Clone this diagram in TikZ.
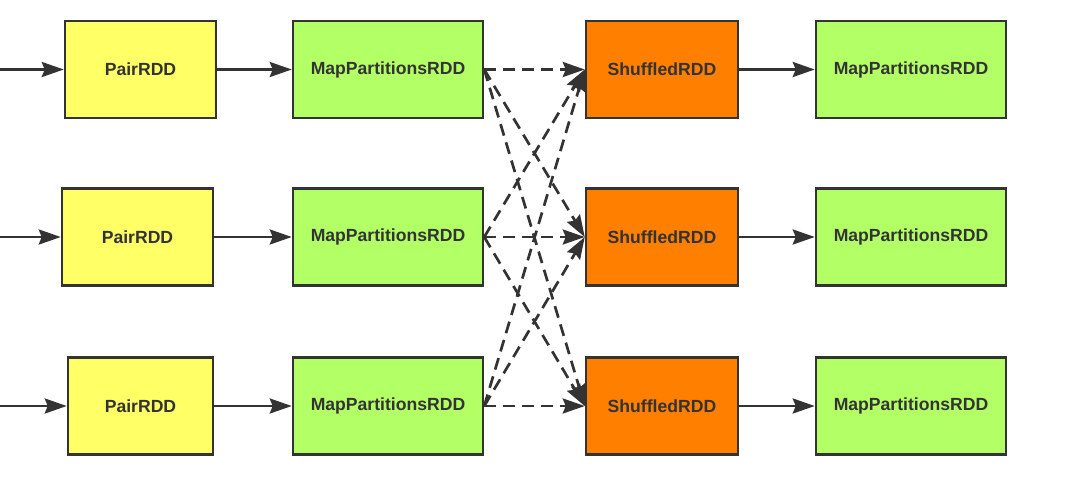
\documentclass[tikz,border=0pt]{standalone}
\usepackage{fontspec}
\setmainfont{Liberation Sans}
\usetikzlibrary{arrows.meta}
\definecolor{edge}{HTML}{333333}
\definecolor{pairfill}{HTML}{FFFF66}
\definecolor{mapfill}{HTML}{B3FF66}
\definecolor{shufill}{HTML}{FF8000}
\tikzset{
  rdd/.style={draw=edge, line width=2.5pt, minimum height=97pt, inner sep=0pt,
    font=\bfseries\fontsize{17.6}{20}\selectfont, text=edge},
  pairbox/.style={rdd, fill=pairfill, minimum width=151pt},
  mapbox/.style={rdd, fill=mapfill, minimum width=190pt},
  shubox/.style={rdd, fill=shufill, minimum width=152pt},
  flow/.style={draw=edge, line width=2.7pt, -{Stealth[length=22pt,width=15pt,inset=3pt]}},
  shuf/.style={flow, dash pattern=on 12pt off 7pt},
}
\begin{document}
\begin{tikzpicture}[x=1pt,y=-1pt]
\useasboundingbox (0,0) rectangle (1066,480);
% row 1
\node[pairbox] (p1) at (140.5,69.5) {PairRDD};
\node[mapbox] (m1) at (388,69.5) {MapPartitionsRDD};
\node[shubox] (s1) at (662,69.5) {ShuffledRDD};
\node[mapbox] (n1) at (911,69.5) {MapPartitionsRDD};
% row 2
\node[pairbox] (p2) at (137.5,237) {PairRDD};
\node[mapbox] (m2) at (388,237) {MapPartitionsRDD};
\node[shubox] (s2) at (662,237) {ShuffledRDD};
\node[mapbox] (n2) at (911,237) {MapPartitionsRDD};
% row 3
\node[pairbox, minimum width=145pt] (p3) at (140.5,406) {PairRDD};
\node[mapbox] (m3) at (388,406) {MapPartitionsRDD};
\node[shubox] (s3) at (662,406) {ShuffledRDD};
\node[mapbox] (n3) at (911,406) {MapPartitionsRDD};
% inputs
\coordinate (i1) at (0,69.5);
\coordinate (i2) at (0,237);
\coordinate (i3) at (0,406);
\foreach \r in {1,2,3}{
  \draw[flow] (i\r) -- (p\r.west);
  \draw[flow] (p\r.east) -- (m\r.west);
  \draw[flow] (s\r.east) -- (n\r.west);
}
% shuffle
\foreach \a in {1,2,3}{
  \foreach \b in {1,2,3}{
    \draw[shuf] (m\a.east) -- (s\b.west);
  }
}
\end{tikzpicture}
\end{document}
